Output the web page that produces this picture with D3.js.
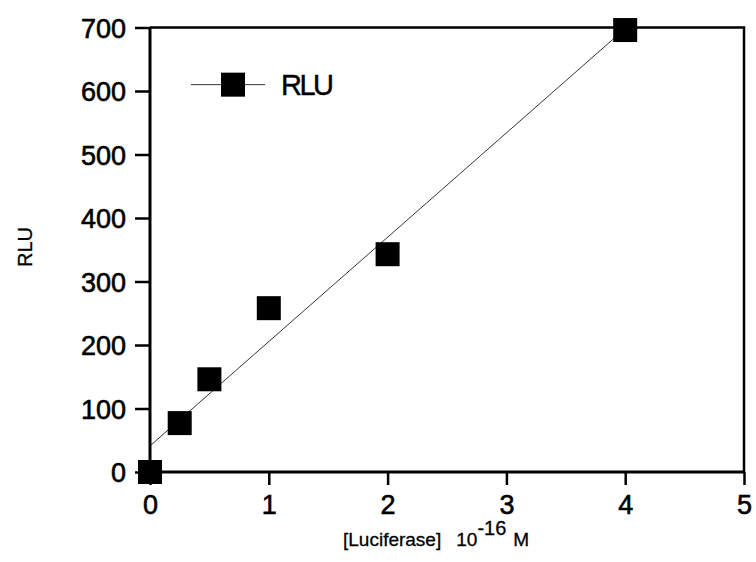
<!DOCTYPE html>
<html>
<head>
<meta charset="utf-8">
<script src="https://cdn.jsdelivr.net/npm/d3@7"></script>
<style>
  body { margin: 0; background: #fff; }
  text { font-family: "Liberation Sans", Arial, sans-serif; fill: #000; }
</style>
</head>
<body>
<svg id="chart" width="756" height="562"></svg>
<script>
// luciferase concentration (10^-16 M) and measured RLU
const conc = [0, 0.25, 0.5, 1, 2, 4];
const rlu = [0, 77, 146, 258, 343, 696];
const xTicks = [0, 1, 2, 3, 4, 5];
const yTicks = [0, 100, 200, 300, 400, 500, 600, 700];

const svg = d3.select('#chart');
const margin = { left: 150, right: 12, top: 27.5, bottom: 90 };
const W = 756, H = 562;

const x = d3.scaleLinear().domain([0, 5]).range([margin.left, W - margin.right]);
const y = d3.scaleLinear().domain([0, 700]).range([H - margin.bottom, margin.top]);

// least squares fit line
const mx = d3.mean(conc), my = d3.mean(rlu);
const slope = d3.sum(conc, (c, i) => (c - mx) * (rlu[i] - my)) / d3.sum(conc, c => (c - mx) ** 2);
const icpt = my - slope * mx;
const fit = [0, 4].map(c => ({ x: c, y: icpt + slope * c }));

// frame (top + right)
svg.append('path')
  .attr('d', `M${x(0)},${y(700)}H${x(5)}V${y(0)}`)
  .attr('fill', 'none').attr('stroke', '#000').attr('stroke-width', 2.5);

const xAxis = svg.append('g')
  .attr('transform', `translate(0,${y(0)})`)
  .call(d3.axisBottom(x).tickValues(xTicks).tickSize(13).tickPadding(10).tickFormat(d3.format('d')));
const yAxis = svg.append('g')
  .attr('transform', `translate(${x(0)},0)`)
  .call(d3.axisLeft(y).tickValues(yTicks).tickSize(15).tickPadding(9).tickFormat(d3.format('d')));

[xAxis, yAxis].forEach(a => {
  a.select('.domain').attr('stroke-width', 3).attr('d', a === xAxis
    ? `M${x(0)},0H${x(5)}` : `M0,${y(0)}V${y(700)}`);
  a.selectAll('.tick line').attr('stroke-width', 2.5);
  a.selectAll('.tick text').attr('font-size', 27)
    .attr('font-family', '"Liberation Sans", Arial, sans-serif')
    .attr('fill', '#000').attr('stroke', '#000').attr('stroke-width', 0.6);
});
yAxis.selectAll('.tick text').attr('dy', '0.36em');

// fit line
svg.append('path')
  .datum(fit)
  .attr('d', d3.line().x(d => x(d.x)).y(d => y(d.y)))
  .attr('fill', 'none').attr('stroke', '#000').attr('stroke-width', 0.8);

// markers
const sq = 24;
svg.append('g').selectAll('rect')
  .data(conc.map((c, i) => ({ x: c, y: rlu[i] })))
  .join('rect')
  .attr('x', d => x(d.x) - sq / 2)
  .attr('y', d => y(d.y) - sq / 2)
  .attr('width', sq).attr('height', sq)
  .attr('fill', '#000');

// legend
const lg = svg.append('g').attr('transform', `translate(191,${y(610)})`);
lg.append('line').attr('x1', 0).attr('x2', 74).attr('stroke', '#000').attr('stroke-width', 0.8);
lg.append('rect').attr('x', 42 - sq / 2).attr('y', -sq / 2).attr('width', sq).attr('height', sq).attr('fill', '#000');
lg.append('text').attr('x', 90).attr('y', 10).attr('font-size', 29).attr('letter-spacing', -2.5)
  .attr('stroke', '#000').attr('stroke-width', 0.4).text('RLU');

// axis titles
svg.append('text')
  .attr('transform', `translate(32,247) rotate(-90)`)
  .attr('text-anchor', 'middle').attr('font-size', 20)
  .attr('stroke', '#000').attr('stroke-width', 0.3).text('RLU');

const xt = svg.append('text').attr('x', 343).attr('y', 546).attr('font-size', 19)
  .attr('stroke', '#000').attr('stroke-width', 0.3);
xt.append('tspan').text('[Luciferase]');
xt.append('tspan').attr('dx', 15).text('10');
xt.append('tspan').attr('dy', -11).attr('font-size', 20).text('-16');
xt.append('tspan').attr('dy', 11).attr('dx', 7).text('M');
</script>
</body>
</html>
